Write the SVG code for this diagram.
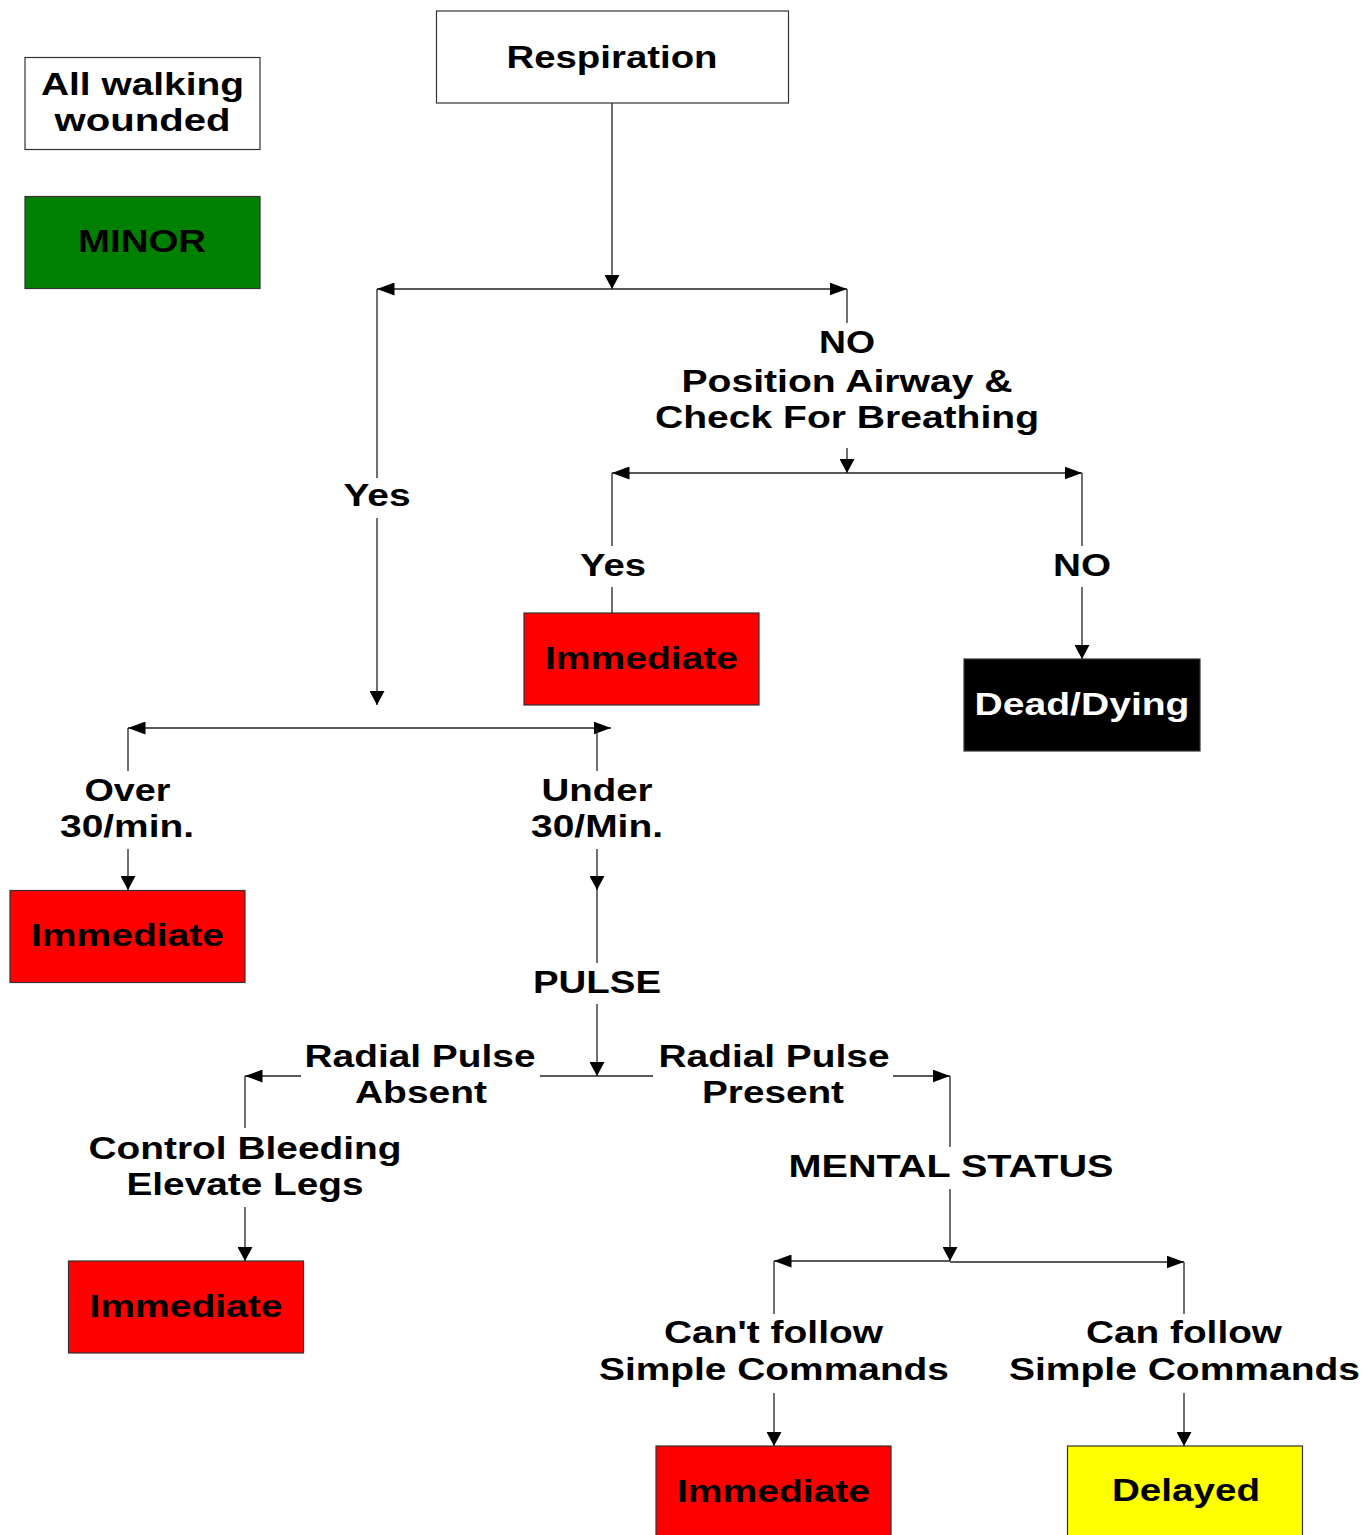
<svg xmlns="http://www.w3.org/2000/svg" width="1364" height="1535" viewBox="0 0 1364 1535">
<style>
  .t{font-family:"Liberation Sans",Arial,sans-serif;font-weight:bold;font-size:31px;text-anchor:middle;fill:#000}
  .w{fill:#fff}
  .box{stroke:#333;stroke-width:1.2}
  .c line{stroke:#222;stroke-width:1.3;fill:none}
  .h{marker-end:url(#arrH)}
  .v{marker-end:url(#arrV)}
</style>
<defs>
  <marker id="arrH" markerUnits="userSpaceOnUse" viewBox="0 0 17.5 13" markerWidth="17.5" markerHeight="13" refX="17.5" refY="6.5" orient="auto">
    <path d="M0,0 L17.5,6.5 L0,13 z" fill="#000"/>
  </marker>
  <marker id="arrV" markerUnits="userSpaceOnUse" viewBox="0 0 14 15" markerWidth="14" markerHeight="15" refX="14" refY="7.5" orient="auto">
    <path d="M0,0 L14,7.5 L0,15 z" fill="#000"/>
  </marker>
</defs>
<rect width="1364" height="1535" fill="#fff"/>

<g class="c" id="connectors">
  <line class="v" x1="612" y1="103" x2="612" y2="289"/>
  <line class="h" x1="612" y1="289" x2="377" y2="289"/>
  <line class="h" x1="612" y1="289" x2="847" y2="289"/>
  <line x1="377" y1="289" x2="377" y2="478"/>
  <line class="v" x1="377" y1="518" x2="377" y2="705"/>
  <line x1="847" y1="289" x2="847" y2="323"/>
  <line class="v" x1="847" y1="448" x2="847" y2="473"/>
  <line class="h" x1="847" y1="473" x2="612" y2="473"/>
  <line class="h" x1="847" y1="473" x2="1082" y2="473"/>
  <line x1="612" y1="473" x2="612" y2="546"/>
  <line x1="612" y1="587" x2="612" y2="613"/>
  <line x1="1082" y1="473" x2="1082" y2="546"/>
  <line class="v" x1="1082" y1="587" x2="1082" y2="659"/>
  <line class="h" x1="377" y1="728" x2="128" y2="728"/>
  <line class="h" x1="377" y1="728" x2="611" y2="728"/>
  <line x1="128" y1="728" x2="128" y2="771"/>
  <line class="v" x1="128" y1="849" x2="128" y2="890"/>
  <line x1="597" y1="728" x2="597" y2="771"/>
  <line class="v" x1="597" y1="849" x2="597" y2="890"/>
  <line x1="597" y1="889" x2="597" y2="963"/>
  <line class="v" x1="597" y1="1004" x2="597" y2="1076"/>
  <line x1="597" y1="1076" x2="540" y2="1076"/>
  <line class="h" x1="301" y1="1076" x2="245" y2="1076"/>
  <line x1="597" y1="1076" x2="653" y2="1076"/>
  <line class="h" x1="893" y1="1076" x2="950" y2="1076"/>
  <line x1="245" y1="1076" x2="245" y2="1128"/>
  <line class="v" x1="245" y1="1207" x2="245" y2="1261"/>
  <line x1="950" y1="1076" x2="950" y2="1147"/>
  <line class="v" x1="950" y1="1189" x2="950" y2="1261"/>
  <line class="h" x1="950" y1="1261" x2="774" y2="1261"/>
  <line class="h" x1="950" y1="1262" x2="1184" y2="1262"/>
  <line x1="774" y1="1261" x2="774" y2="1314"/>
  <line class="v" x1="774" y1="1393" x2="774" y2="1446"/>
  <line x1="1184" y1="1262" x2="1184" y2="1314"/>
  <line class="v" x1="1184" y1="1393" x2="1184" y2="1446"/>
</g>

<g id="labels">
  <text class="t" x="847" y="353" textLength="56" lengthAdjust="spacingAndGlyphs">NO</text>
  <text class="t" x="847" y="392" textLength="331" lengthAdjust="spacingAndGlyphs">Position Airway &amp;</text>
  <text class="t" x="847" y="428" textLength="384" lengthAdjust="spacingAndGlyphs">Check For Breathing</text>
  <text class="t" x="377" y="506" textLength="67" lengthAdjust="spacingAndGlyphs">Yes</text>
  <text class="t" x="613" y="576" textLength="66" lengthAdjust="spacingAndGlyphs">Yes</text>
  <text class="t" x="1082" y="576" textLength="58" lengthAdjust="spacingAndGlyphs">NO</text>
  <text class="t" x="127.5" y="801" textLength="86" lengthAdjust="spacingAndGlyphs">Over</text>
  <text class="t" x="127" y="837" textLength="134" lengthAdjust="spacingAndGlyphs">30/min.</text>
  <text class="t" x="597" y="801" textLength="111" lengthAdjust="spacingAndGlyphs">Under</text>
  <text class="t" x="597" y="837" textLength="132" lengthAdjust="spacingAndGlyphs">30/Min.</text>
  <text class="t" x="597" y="993" textLength="128" lengthAdjust="spacingAndGlyphs">PULSE</text>
  <text class="t" x="420" y="1067" textLength="231" lengthAdjust="spacingAndGlyphs">Radial Pulse</text>
  <text class="t" x="421" y="1103" textLength="132" lengthAdjust="spacingAndGlyphs">Absent</text>
  <text class="t" x="774" y="1067" textLength="231" lengthAdjust="spacingAndGlyphs">Radial Pulse</text>
  <text class="t" x="773" y="1103" textLength="142" lengthAdjust="spacingAndGlyphs">Present</text>
  <text class="t" x="245" y="1159" textLength="313" lengthAdjust="spacingAndGlyphs">Control Bleeding</text>
  <text class="t" x="245" y="1195" textLength="237" lengthAdjust="spacingAndGlyphs">Elevate Legs</text>
  <text class="t" x="951" y="1177" textLength="325" lengthAdjust="spacingAndGlyphs">MENTAL STATUS</text>
  <text class="t" x="773.5" y="1343" textLength="219" lengthAdjust="spacingAndGlyphs">Can't follow</text>
  <text class="t" x="774" y="1380" textLength="350" lengthAdjust="spacingAndGlyphs">Simple Commands</text>
  <text class="t" x="1184" y="1343" textLength="196" lengthAdjust="spacingAndGlyphs">Can follow</text>
  <text class="t" x="1184.5" y="1380" textLength="351" lengthAdjust="spacingAndGlyphs">Simple Commands</text>
</g>

<g id="walking">
  <rect class="box" x="25" y="57.5" width="235" height="92" fill="#fff"/>
  <text class="t" x="142.5" y="95" textLength="203" lengthAdjust="spacingAndGlyphs">All walking</text>
  <text class="t" x="142.5" y="131" textLength="176" lengthAdjust="spacingAndGlyphs">wounded</text>
</g>
<g id="minor">
  <rect class="box" x="25" y="196.5" width="235" height="92" fill="#008000"/>
  <text class="t" x="142" y="252" textLength="128" lengthAdjust="spacingAndGlyphs">MINOR</text>
</g>
<g id="respiration">
  <rect class="box" x="436.5" y="11" width="352" height="92" fill="#fff"/>
  <text class="t" x="612" y="67.5" textLength="211" lengthAdjust="spacingAndGlyphs">Respiration</text>
</g>
<g id="immediate1">
  <rect class="box" x="524" y="613" width="235" height="92" fill="#ff0000"/>
  <text class="t" x="641.5" y="669" textLength="193" lengthAdjust="spacingAndGlyphs">Immediate</text>
</g>
<g id="dead">
  <rect class="box" x="964" y="659" width="236" height="92" fill="#000"/>
  <text class="t w" x="1082" y="715" textLength="215" lengthAdjust="spacingAndGlyphs">Dead/Dying</text>
</g>
<g id="immediate2">
  <rect class="box" x="10" y="890.5" width="235" height="92" fill="#ff0000"/>
  <text class="t" x="127.5" y="946" textLength="193" lengthAdjust="spacingAndGlyphs">Immediate</text>
</g>
<g id="immediate3">
  <rect class="box" x="68.5" y="1261" width="235" height="92" fill="#ff0000"/>
  <text class="t" x="186" y="1317" textLength="193" lengthAdjust="spacingAndGlyphs">Immediate</text>
</g>
<g id="immediate4">
  <rect class="box" x="656" y="1446" width="235" height="92" fill="#ff0000"/>
  <text class="t" x="773.5" y="1502" textLength="193" lengthAdjust="spacingAndGlyphs">Immediate</text>
</g>
<g id="delayed">
  <rect class="box" x="1067.5" y="1446" width="235" height="92" fill="#ffff00"/>
  <text class="t" x="1186" y="1501" textLength="148" lengthAdjust="spacingAndGlyphs">Delayed</text>
</g>
</svg>
